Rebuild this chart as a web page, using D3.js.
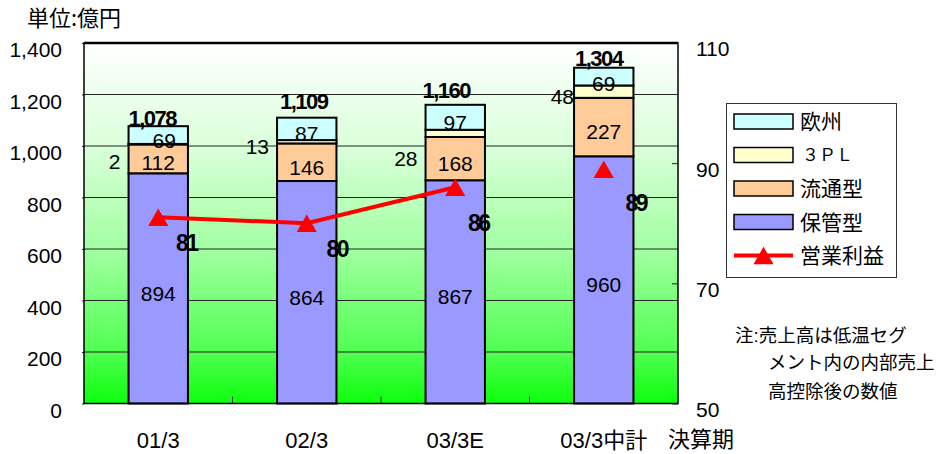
<!DOCTYPE html>
<html>
<head>
<meta charset="utf-8">
<script src="https://cdn.jsdelivr.net/npm/d3@7"></script>
<style>
  html, body { margin: 0; padding: 0; background: #ffffff; }
  svg { display: block; }
  text { font-family: "Liberation Sans", Arial, "Noto Sans CJK JP", sans-serif; fill: #000; }
  .jp { font-family: "Noto Sans CJK JP", "Liberation Sans", sans-serif; }
</style>
</head>
<body>
<svg id="chart" width="941" height="454"></svg>
<script>
// Sales by segment (億円) and operating profit per fiscal period
const categories = ["01/3", "02/3", "03/3E", "03/3中計"];
const hokan   = [894, 864, 867, 960];   // 保管型
const ryutsu  = [112, 146, 168, 227];   // 流通型
const tpl     = [2, 13, 28, 48];        // ３ＰＬ
const europe  = [69, 87, 97, 69];       // 欧州
const totals  = [1078, 1109, 1160, 1304];
const profit  = [81, 80, 86, 89];       // 営業利益 (right axis)
const leftTicks  = [0, 200, 400, 600, 800, 1000, 1200, 1400];
const rightTicks = [50, 70, 90, 110];
const actualCount = 3;                  // periods joined by the profit line

const series = [
  { key: "保管型", values: hokan,  color: "#9999ff" },
  { key: "流通型", values: ryutsu, color: "#ffcc99" },
  { key: "３ＰＬ", values: tpl,    color: "#ffffcc" },
  { key: "欧州",   values: europe, color: "#ccffff" }
];

const svg = d3.select("#chart");
const plot = { left: 84, right: 678, top: 43, bottom: 403.5 };

const x = d3.scaleBand().domain(categories)
  .range([plot.left, plot.right]).paddingInner(0.6).paddingOuter(0.3);
const y = d3.scaleLinear().domain([0, 1400]).range([plot.bottom, plot.top]);
const y2 = d3.scaleLinear().domain([50, 110]).range([plot.bottom, plot.top]);

// background gradient of the plot area
const defs = svg.append("defs");
const grad = defs.append("linearGradient").attr("id", "bg")
  .attr("x1", 0).attr("y1", 0).attr("x2", 0).attr("y2", 1);
[[0, "#ffffff"], [0.3, "#d8ffd8"], [0.57, "#a2ffa2"], [0.86, "#50ff50"], [1, "#0cff0c"]]
  .forEach(([o, c]) => grad.append("stop").attr("offset", o).attr("stop-color", c));

svg.append("rect")
  .attr("x", plot.left).attr("y", plot.top)
  .attr("width", plot.right - plot.left).attr("height", plot.bottom - plot.top)
  .attr("fill", "url(#bg)");

// horizontal gridlines
svg.append("g").selectAll("line").data(leftTicks.slice(1, -1)).join("line")
  .attr("x1", plot.left).attr("x2", plot.right)
  .attr("y1", d => y(d)).attr("y2", d => y(d))
  .attr("stroke", "#222").attr("stroke-width", 1);

// left axis
const leftAxis = d3.axisLeft(y).tickValues(leftTicks).tickSize(2).tickFormat(d3.format(","));
const gl = svg.append("g").attr("transform", `translate(${plot.left},0)`).call(leftAxis);
gl.select(".domain").remove();
gl.selectAll(".tick line").attr("stroke", "#222");
gl.selectAll(".tick text").attr("x", -22).attr("dy", "0.35em").attr("transform", "translate(0,6.5)")
  .style("font-size", "21px").style("font-family", "Liberation Sans, Arial, sans-serif");

// right axis (profit)
const rightAxis = d3.axisRight(y2).tickValues(rightTicks).tickSize(-6).tickFormat(d3.format("d"));
const gr = svg.append("g").attr("transform", `translate(${plot.right},0)`).call(rightAxis);
gr.select(".domain").remove();
gr.selectAll(".tick line").attr("stroke", "#222");
gr.selectAll(".tick text").attr("x", 18).attr("dy", "0.35em").attr("transform", "translate(0,5.5)")
  .style("font-size", "21px").style("font-family", "Liberation Sans, Arial, sans-serif");

// bottom axis: tick marks between categories, labels centred under bars
const step = x.step();
const boundaries = categories.slice(1).map(c => x(c) - x.paddingInner() * step / 2);
svg.append("g").selectAll("line").data(boundaries).join("line")
  .attr("x1", d => d).attr("x2", d => d)
  .attr("y1", plot.bottom).attr("y2", plot.bottom - 7)
  .attr("stroke", "#222").attr("stroke-width", 1);
svg.append("g").selectAll("text").data(categories).join("text")
  .attr("x", d => x(d) + x.bandwidth() / 2).attr("y", 448)
  .attr("text-anchor", "middle").style("font-size", "22px")
  .text(d => d);

// stacked bars
const rows = categories.map((c, i) => {
  const r = { cat: c };
  series.forEach(s => { r[s.key] = s.values[i]; });
  return r;
});
const stacked = d3.stack().keys(series.map(s => s.key))(rows);

const barG = svg.append("g");
stacked.forEach((layer, li) => {
  barG.append("g").selectAll("rect").data(layer).join("rect")
    .attr("x", d => x(d.data.cat)).attr("width", x.bandwidth())
    .attr("y", d => y(d[1])).attr("height", d => y(d[0]) - y(d[1]))
    .attr("fill", series[li].color)
    .attr("stroke", "#000").attr("stroke-width", 2);
});

// plot frame
svg.append("rect")
  .attr("x", plot.left).attr("y", plot.top)
  .attr("width", plot.right - plot.left).attr("height", plot.bottom - plot.top)
  .attr("fill", "none").attr("stroke", "#000").attr("stroke-width", 1.5);
svg.append("line").attr("x1", plot.left).attr("x2", plot.right)
  .attr("y1", plot.top).attr("y2", plot.top).attr("stroke", "#000").attr("stroke-width", 2.5);

// segment value labels
const labelNudge = {
  "流通型": [[0, -1], [0, 0], [0, 0], [0, 0]],
  "３ＰＬ": [[0, 12], [0, 0], [0, 20], [8, 0]],
  "欧州":   [[6, 1], [0, 0], [0, 0], [0, 2]]
};
const segLabels = svg.append("g");
stacked.forEach((layer, li) => {
  const key = series[li].key;
  const side = key === "３ＰＬ";
  segLabels.append("g").selectAll("text").data(layer).join("text")
    .attr("x", (d, i) => {
      const n = labelNudge[key] ? labelNudge[key][i][0] : 0;
      return (side ? x(d.data.cat) - 8 : x(d.data.cat) + x.bandwidth() / 2) + n;
    })
    .attr("y", (d, i) => {
      const n = labelNudge[key] ? labelNudge[key][i][1] : 0;
      return y((d[0] + d[1]) / 2) + 5 + n;
    })
    .attr("dy", "0.35em")
    .attr("text-anchor", side ? "end" : "middle")
    .style("font-size", "21px")
    .text(d => d.data[key]);
});

// totals above bars
const totalNudge = [[-6, -8], [-3, -17], [-9, -15], [-5, -9]];
svg.append("g").selectAll("text").data(totals).join("text")
  .attr("x", (d, i) => x(categories[i]) + x.bandwidth() / 2 + totalNudge[i][0])
  .attr("y", (d, i) => y(d) + totalNudge[i][1])
  .attr("dy", "0.35em").attr("text-anchor", "middle")
  .style("font-size", "22px").style("font-weight", "bold").style("letter-spacing", "-1.5px")
  .text(d => d3.format(",")(d));

// operating profit line and markers
const px = (d, i) => x(categories[i]) + x.bandwidth() / 2;
const line = d3.line().defined((d, i) => i < actualCount).x(px).y(d => y2(d));
svg.append("path").datum(profit).attr("d", line)
  .attr("fill", "none").attr("stroke", "#ff0000").attr("stroke-width", 4);

const tri = d3.symbol().type(d3.symbolTriangle).size(175);
// shift so the triangle's bounding box is centred on the point
const triShift = Math.sqrt(175 / (Math.sqrt(3) / 4)) * Math.sqrt(3) / 2 * (1 / 3 - 1 / 2);
svg.append("g").selectAll("path").data(profit).join("path")
  .attr("d", tri)
  .attr("transform", (d, i) => `translate(${px(d, i)},${y2(d) - triShift})`)
  .attr("fill", "#ff0000");

const profitNudge = [[28, 26], [30, 26], [23, 36], [32, 34]];
svg.append("g").selectAll("text").data(profit).join("text")
  .attr("x", (d, i) => px(d, i) + profitNudge[i][0])
  .attr("y", (d, i) => y2(d) + profitNudge[i][1])
  .attr("dy", "0.35em").attr("text-anchor", "middle")
  .style("font-size", "23px").style("font-weight", "bold").style("letter-spacing", "-2.5px")
  .text(d => d);

// legend
const legend = svg.append("g");
legend.append("rect").attr("x", 726.5).attr("y", 103.5).attr("width", 170).attr("height", 174)
  .attr("fill", "#fff").attr("stroke", "#333").attr("stroke-width", 1);
const legendItems = series.slice().reverse();
const rowY = i => 121.5 + i * 33.5;
legendItems.forEach((s, i) => {
  legend.append("rect").attr("x", 734).attr("y", rowY(i) - 7.5).attr("width", 59).attr("height", 15)
    .attr("fill", s.color).attr("stroke", "#000").attr("stroke-width", 1.5);
  legend.append("text").attr("class", "jp")
    .attr("x", s.key === "３ＰＬ" ? 802 : 800).attr("y", rowY(i)).attr("dy", "0.36em")
    .style("font-size", s.key === "３ＰＬ" ? "17px" : "21px")
    .text(s.key);
});
const py = rowY(4);
legend.append("line").attr("x1", 734).attr("x2", 793).attr("y1", py).attr("y2", py)
  .attr("stroke", "#ff0000").attr("stroke-width", 4);
legend.append("path").attr("d", tri).attr("transform", `translate(763.5,${py - triShift})`)
  .attr("fill", "#ff0000");
legend.append("text").attr("class", "jp").attr("x", 800).attr("y", py).attr("dy", "0.36em")
  .style("font-size", "21px").text("営業利益");

// titles and note
svg.append("text").attr("class", "jp").attr("x", 27).attr("y", 26)
  .style("font-size", "22px").text("単位:億円");
svg.append("text").attr("class", "jp").attr("x", 668).attr("y", 447)
  .style("font-size", "22px").text("決算期");

const note = svg.append("g").attr("class", "jp").style("font-size", "18.5px");
note.append("text").attr("x", 735).attr("y", 342).text("注:売上高は低温セグ");
note.append("text").attr("x", 768).attr("y", 369).text("メント内の内部売上");
note.append("text").attr("x", 768).attr("y", 398).text("高控除後の数値");
</script>
</body>
</html>
